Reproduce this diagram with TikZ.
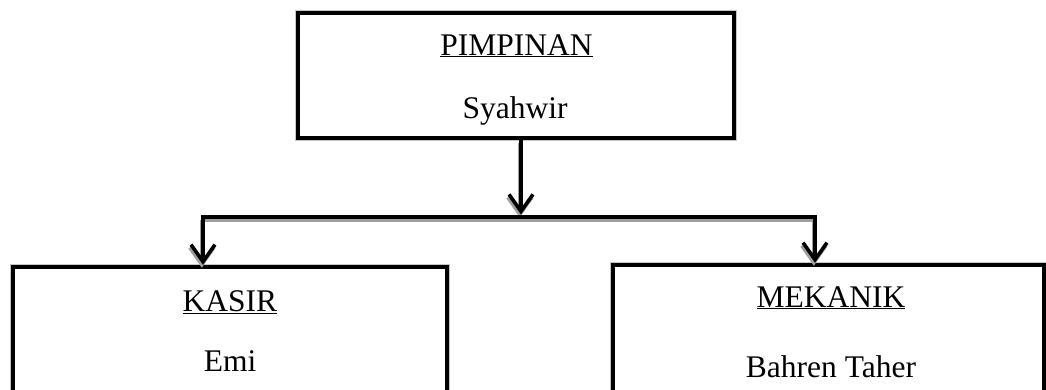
\documentclass[tikz,border=0pt]{standalone}
\usepackage{fontspec}
\setmainfont{Liberation Serif}
\usetikzlibrary{arrows.meta}
\tikzset{
  orgbox/.style={draw=black, line width=4.5pt, inner sep=0pt, fill=white,
    preaction={draw=gray!45, line width=5.6pt}},
  lbl/.style={anchor=base, inner sep=0pt, font=\fontsize{31.5}{36}\selectfont},
  conn/.style={draw=black, line width=3.8pt},
  arr/.style={conn, -{Straight Barb[length=17pt,width=24pt,line width=3.6pt]}},
  shadowconn/.style={draw=gray!75, line width=3.8pt, transform canvas={shift={(-1.2pt,-3pt)}}},
  shadowarr/.style={shadowconn, -{Straight Barb[length=17pt,width=24pt,line width=3.6pt]}},
}
\begin{document}
\begin{tikzpicture}[x=1pt,y=-1pt]
\useasboundingbox (0,0) rectangle (1046,389);
\clip (0,0) rectangle (1046,389);
\fill[white] (0,0) rectangle (1046,389);

% boxes
\node[orgbox, minimum width=436pt, minimum height=125pt] (top) at (516,75.5) {};
\node[orgbox, minimum width=434pt, minimum height=170pt] (kasir) at (230,352) {};
\node[orgbox, minimum width=431pt, minimum height=170pt] (mekanik) at (828.5,350) {};

% connector coordinates
\coordinate (j) at (521,217);
\coordinate (hl) at (203,217);
\coordinate (hr) at (815,217);
\coordinate (jtip) at (521,214.5);

% shadows
\draw[shadowarr] (top.south -| j) -- (jtip);
\draw[shadowconn] (hl) -- (hr);
\draw[shadowarr] (hl) -- (hl |- kasir.north);
\draw[shadowarr] (hr) -- (hr |- mekanik.north);

% connectors
\draw[conn] ([xshift=-1.9pt]hl) -- ([xshift=1.9pt]hr);
\draw[arr] (top.south -| j) -- (jtip);
\draw[arr] ([yshift=1.9pt]hl) -- (hl |- kasir.north);
\draw[arr] ([yshift=1.9pt]hr) -- (hr |- mekanik.north);

% labels
\node[lbl] (t1) at (516.5,55) {\underline{PIMPINAN}};
\node[lbl] (t2) at (515,118) {Syahwir};
\node[lbl] (k1) at (230,311) {\underline{KASIR}};
\node[lbl] (k2) at (230,371) {Emi};
\node[lbl] (m1) at (831,307) {\underline{MEKANIK}};
\node[lbl] (m2) at (831,377) {Bahren Taher};
\end{tikzpicture}
\end{document}
